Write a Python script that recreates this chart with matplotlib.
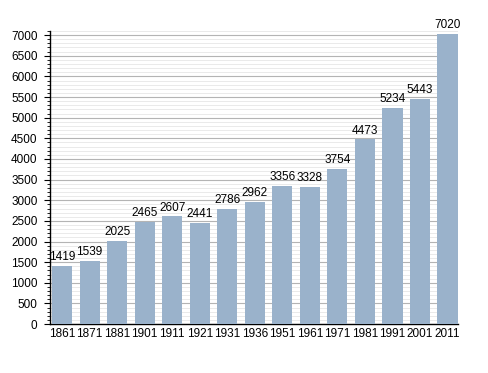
import matplotlib
matplotlib.use("Agg")
import matplotlib.pyplot as plt
from matplotlib.ticker import MultipleLocator

years = ["1861", "1871", "1881", "1901", "1911", "1921", "1931", "1936",
         "1951", "1961", "1971", "1981", "1991", "2001", "2011"]
population = [1419, 1539, 2025, 2465, 2607, 2441, 2786, 2962,
              3356, 3328, 3754, 4473, 5234, 5443, 7020]

plt.rcParams['font.family'] = ['Liberation Sans', 'DejaVu Sans']
fig = plt.figure(figsize=(4.88, 3.73), dpi=100)
ax = fig.add_axes([0.1025, 0.131, 0.836, 0.786])

x = list(range(len(years)))
ax.bar(x, population, width=0.73, color="#9ab2cb", zorder=3)
for xi, v in zip(x, population):
    ax.text(xi, v + 70, str(v), ha="center", va="bottom", fontsize=8.5, color="black", zorder=4)

ax.set_xlim(-0.44, 14.38)
ax.set_ylim(0, 7100)
ax.set_xticks(x)
ax.set_xticklabels(years, fontsize=8.5)
ax.set_yticks([t for t in range(0, 7001, 500)])
ax.yaxis.set_minor_locator(MultipleLocator(100))
ax.tick_params(axis="y", which="major", labelsize=8.5, length=4, width=0.8, direction="out", pad=5)
ax.tick_params(axis="y", which="minor", length=2, width=0.6, direction="out")
ax.tick_params(axis="x", length=0, pad=3)
ax.grid(axis="y", which="major", color="#b4b4b4", linewidth=0.8, zorder=0)
ax.grid(axis="y", which="minor", color="#e6e6e6", linewidth=0.6, zorder=0)
for s in ["top", "right"]:
    ax.spines[s].set_visible(False)
ax.spines["left"].set_linewidth(1.0)
ax.spines["bottom"].set_linewidth(1.0)
fig.savefig("out.png", dpi=100)
